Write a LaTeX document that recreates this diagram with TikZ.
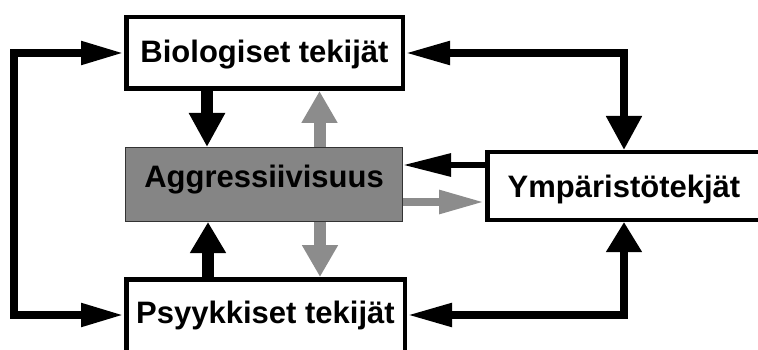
\documentclass[tikz,border=0pt]{standalone}
\usepackage{fontspec}
\setmainfont{Liberation Sans}
\usetikzlibrary{arrows.meta}
\definecolor{aggfill}{RGB}{133,133,133}
\definecolor{arrgray}{RGB}{140,140,140}
\begin{document}
\begin{tikzpicture}[x=1pt,y=-1pt,
  box/.style={draw=black, line width=4.5pt, fill=white, inner sep=0pt,
    font=\fontsize{31}{31}\selectfont\bfseries, text height=22pt},
  loopline/.style={draw=black, line width=8pt},
  thick arrow/.style={line width=12pt}
]
\useasboundingbox (0,0) rectangle (758,350);
\clip (0,0) rectangle (758,350);
\fill[white] (0,0) rectangle (758,350);

% boxes
\node[box, text depth=3pt, minimum width=276.5pt, minimum height=71.5pt] (bio) at (264.5,53) {Biologiset tekijät};
\node[box, text depth=19pt, minimum width=278.5pt, minimum height=85.5pt] (psy) at (265.5,322) {Psyykkiset tekijät};
\node[box, text depth=0pt, minimum width=297.5pt, minimum height=67.5pt] (ymp) at (636,186) {Ympäristötekjät\kern24pt\relax};
\node[box, draw=black!80, line width=1.2pt, fill=aggfill, text depth=16pt,
      minimum width=276.8pt, minimum height=73.8pt] (agg) at (264,184.5) {Aggressiivisuus};

% connection points
\coordinate (pw) at ([yshift=7pt]psy.west);
\coordinate (pe) at ([yshift=7pt]psy.east);
\coordinate (yn) at ([xshift=-12pt]ymp.north);
\coordinate (ys) at ([xshift=-12pt]ymp.south);

% left loop
\coordinate (cl) at (14,184);
\draw[loopline, {Triangle[length=43pt,width=22pt]}-{Triangle[length=43pt,width=22pt]}]
  (bio.west) -| (cl) |- (pw);

% right loops
\draw[loopline, {Triangle[length=45pt,width=22pt]}-{Triangle[length=34pt,width=34pt]}]
  (bio.east) -| (yn);
\draw[loopline, {Triangle[length=30pt,width=34pt]}-{Triangle[length=45pt,width=22pt]}]
  (ys) |- (pe);

% Ympäristö <-> Aggressiivisuus
\coordinate (ya) at ([yshift=21pt]ymp.west);
\coordinate (ab) at ([yshift=-17.5pt]agg.east);
\draw[line width=6pt, -{Triangle[length=48pt,width=22pt]}] (ya) -- (ya -| agg.east);
\draw[arrgray, line width=8.5pt, -{Triangle[length=46pt,width=22pt]}] (ab) -- (ab -| ymp.west);

% vertical arrows
\coordinate (b1) at ([xshift=-57.5pt]bio.south);
\coordinate (g1) at ([xshift=55.5pt]agg.north);
\coordinate (b2) at ([xshift=-57.5pt]psy.north);
\coordinate (g2) at ([xshift=56pt]agg.south);
\draw[thick arrow, -{Triangle[length=34pt,width=34pt]}] (b1) -- (b1 |- agg.north);
\draw[thick arrow, arrgray, -{Triangle[length=32pt,width=34pt]}] (g1) -- (g1 |- bio.south);
\draw[thick arrow, -{Triangle[length=31pt,width=34pt]}] (b2) -- (b2 |- agg.south);
\draw[thick arrow, arrgray, -{Triangle[length=32pt,width=34pt]}] (g2) -- (g2 |- psy.north);
\end{tikzpicture}
\end{document}
